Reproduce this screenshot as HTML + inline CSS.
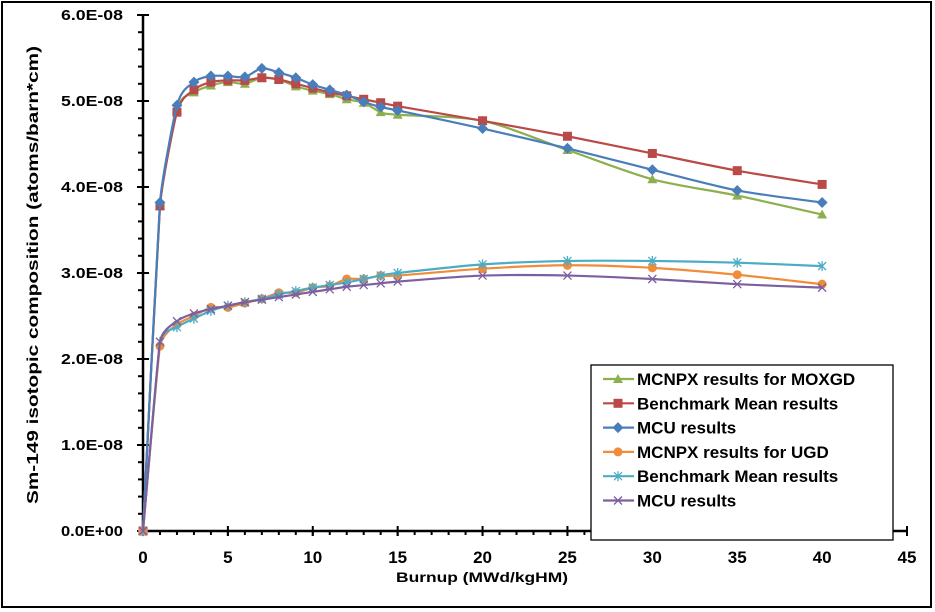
<!DOCTYPE html>
<html><head><meta charset="utf-8"><style>
body{margin:0;background:#fff}
svg{display:block;font-family:"Liberation Sans",sans-serif;font-weight:bold}
</style></head><body>
<svg id="s" width="935" height="612" xmlns="http://www.w3.org/2000/svg">
<rect x="2" y="2" width="929" height="605" fill="#fff" stroke="#000" stroke-width="2"/>
<g id="ax"></g>
<g id="series"></g>
<text x="38" y="275" transform="rotate(-90 38 275)" text-anchor="middle" font-size="16" textLength="458" lengthAdjust="spacingAndGlyphs">Sm-149 isotopic composition (atoms/barn*cm)</text>
<text x="482" y="582" text-anchor="middle" font-size="14" textLength="172" lengthAdjust="spacingAndGlyphs">Burnup (MWd/kgHM)</text>
<rect x="591" y="365" width="302" height="175" fill="#fff" stroke="#000" stroke-width="1.3"/>
<g id="leg"></g>
</svg>
<script>
const X=v=>143+v*(764/45), Y=v=>531-v*86;
const ns="http://www.w3.org/2000/svg";
function el(t,a,p){const e=document.createElementNS(ns,t);for(const k in a)e.setAttribute(k,a[k]);p.appendChild(e);return e;}
const ax=document.getElementById('ax');
el('line',{x1:143,y1:15,x2:143,y2:531,stroke:'#000','stroke-width':2.5},ax);
el('line',{x1:143,y1:531,x2:908,y2:531,stroke:'#000','stroke-width':2.5},ax);
for(let i=0;i<=45;i++){const x=X(i);const maj=i%5==0;el('line',{x1:x,y1:531,x2:x,y2:maj?536:535,stroke:'#000','stroke-width':2},ax);if(maj){el('line',{x1:x,y1:526,x2:x,y2:536,stroke:'#000','stroke-width':2},ax);const t=el('text',{x:x,y:563,'text-anchor':'middle','font-size':17},ax);t.textContent=i;}}
for(let j=0;j<=30;j++){const y=Y(j*0.2);const maj=j%5==0;el('line',{x1:maj?137:138,y1:y,x2:maj?149:143,y2:y,stroke:'#000','stroke-width':2},ax);if(maj){const t=el('text',{x:123,y:y+5,'text-anchor':'end','font-size':15,textLength:62,lengthAdjust:'spacingAndGlyphs'},ax);t.textContent=(j/5).toFixed(1)+(j==0?'E+00':'E-08');}}
const xs=[0,1,2,3,4,5,6,7,8,9,10,11,12,13,14,15,20,25,30,35,40];
const S=[
{c:'#8db04e',m:'tri',d:[0,3.78,4.9,5.1,5.18,5.22,5.2,5.27,5.25,5.17,5.12,5.08,5.02,4.98,4.87,4.84,4.77,4.43,4.09,3.9,3.68],n:'MCNPX results for MOXGD'},
{c:'#b94a48',m:'sq',d:[0,3.78,4.87,5.13,5.22,5.24,5.24,5.27,5.25,5.2,5.15,5.1,5.06,5.02,4.98,4.94,4.77,4.59,4.39,4.19,4.03],n:'Benchmark Mean results'},
{c:'#4a7ebb',m:'dia',d:[0,3.82,4.95,5.22,5.29,5.29,5.28,5.38,5.33,5.27,5.19,5.13,5.07,4.99,4.93,4.89,4.68,4.45,4.2,3.96,3.82],n:'MCU results'},
{c:'#f08c3a',m:'circ',d:[0,2.15,2.4,2.5,2.6,2.6,2.65,2.7,2.77,2.77,2.83,2.85,2.93,2.93,2.97,2.97,3.05,3.09,3.06,2.98,2.87],n:'MCNPX results for UGD'},
{c:'#4bacc6',m:'star',d:[0,2.2,2.37,2.47,2.56,2.62,2.66,2.7,2.75,2.79,2.83,2.86,2.89,2.93,2.97,3.0,3.1,3.14,3.14,3.12,3.08],n:'Benchmark Mean results'},
{c:'#7d5fa0',m:'x',d:[0,2.2,2.44,2.53,2.58,2.62,2.66,2.69,2.72,2.75,2.78,2.81,2.84,2.86,2.88,2.9,2.97,2.97,2.93,2.87,2.83],n:'MCU results'}];
function marker(m,x,y,c,g){
 if(m=='tri')el('polygon',{points:`${x},${y-5} ${x+5},${y+4} ${x-5},${y+4}`,fill:c},g);
 else if(m=='sq')el('rect',{x:x-4.5,y:y-4.5,width:9,height:9,fill:c},g);
 else if(m=='dia')el('polygon',{points:`${x},${y-5.5} ${x+5.5},${y} ${x},${y+5.5} ${x-5.5},${y}`,fill:c},g);
 else if(m=='circ')el('circle',{cx:x,cy:y,r:4.5,fill:c},g);
 else{const p=`M${x-4},${y-4}L${x+4},${y+4}M${x-4},${y+4}L${x+4},${y-4}`+(m=='star'?`M${x},${y-5}L${x},${y+5}`:'');el('path',{d:p,stroke:c,'stroke-width':1.3,fill:'none'},g);}
}
const sg=document.getElementById('series');
S.forEach(s=>{
 const p=xs.map((v,i)=>[X(v),Y(s.d[i])]);
 let d=`M${p[0][0]},${p[0][1]}`;
 for(let i=0;i<p.length-1;i++){const p0=p[Math.max(i-1,0)],p1=p[i],p2=p[i+1],p3=p[Math.min(i+2,p.length-1)];
  const t=i<2?0.06:0.14;const c1=[p1[0]+(p2[0]-p0[0])*t,p1[1]+(p2[1]-p0[1])*t],c2=[p2[0]-(p3[0]-p1[0])*t,p2[1]-(p3[1]-p1[1])*t];
  d+=`C${c1[0]},${c1[1]} ${c2[0]},${c2[1]} ${p2[0]},${p2[1]}`;}
 el('path',{d:d,stroke:s.c,'stroke-width':2.2,fill:'none'},sg);
 p.forEach(q=>marker(s.m,q[0],q[1],s.c,sg));
});
const lg=document.getElementById('leg');
S.forEach((s,i)=>{const y=379+i*24.3;el('line',{x1:603,y1:y,x2:634,y2:y,stroke:s.c,'stroke-width':2.2},lg);marker(s.m,618,y,s.c,lg);
 const t=el('text',{x:637,y:y+6,'font-size':17},lg);t.textContent=s.n;});
</script>
</body></html>
